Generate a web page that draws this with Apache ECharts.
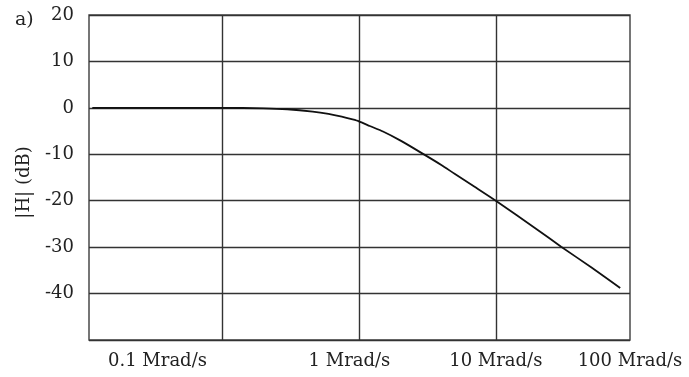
<!DOCTYPE html>
<html>
<head>
<meta charset="utf-8">
<script src="https://cdn.jsdelivr.net/npm/echarts@6/dist/echarts.min.js"></script>
<style>
  html, body { margin: 0; padding: 0; background: #fff; }
  #chart { width: 689px; height: 377px; }
</style>
</head>
<body>
<div id="chart"></div>
<script>
// Frequency (Mrad/s) and magnitude (dB)
const omega = [0.0113, 0.1, 0.2, 0.3, 0.46, 0.6, 0.75, 0.9, 1, 1.2, 1.5, 2, 2.9, 4, 5, 7, 10, 20, 30, 50, 81];
const magDb = [0, 0, -0.1, -0.3, -0.8, -1.3, -1.9, -2.5, -2.9, -3.9, -5.1, -7.0, -9.8, -12.3, -14.2, -17.0, -20, -26.2, -29.9, -34.4, -38.8];

// x axis span in decades (log10 of Mrad/s)
const xMinDec = -1.971;
const xMaxDec = 1.98;
// vertical grid lines at decades
const gridDecades = [-1, 0, 1];
// tick labels and where they sit (log10 position)
const xLabelPos = [-1.471, -0.069, 1, 1.98];
const xLabelText = ['0.1 Mrad/s', '1 Mrad/s', '10 Mrad/s', '100 Mrad/s'];

// y axis
const yMin = -50, yMax = 20, yStep = 10;

const seriesData = omega.map((w, i) => [Math.log10(w), magDb[i]]);

const FONT = 'DejaVu Serif';
const chart = echarts.init(document.getElementById('chart'), null, { renderer: 'canvas' });
chart.setOption({
  animation: false,
  backgroundColor: '#ffffff',
  grid: {
    left: 89, right: 59, top: 15, bottom: 37,
    show: true, borderColor: '#4a4a4a', borderWidth: 1.5, backgroundColor: 'transparent'
  },
  graphic: [{
    type: 'text', left: 15, top: 11,
    style: { text: 'a)', font: '19px "DejaVu Serif"', fill: '#222' }
  }],
  xAxis: {
    type: 'value',
    min: xMinDec, max: xMaxDec,
    axisLine: { show: false },
    axisTick: { show: false },
    splitLine: { show: false },
    axisLabel: {
      customValues: xLabelPos,
      margin: 12,
      fontFamily: FONT, fontSize: 18, color: '#222',
      formatter: function (v) {
        let best = 0, bd = Infinity;
        xLabelPos.forEach((p, i) => { const d = Math.abs(p - v); if (d < bd) { bd = d; best = i; } });
        return xLabelText[best];
      }
    }
  },
  yAxis: {
    type: 'value',
    min: yMin, max: yMax, interval: yStep,
    name: '|H| (dB)',
    nameLocation: 'middle',
    nameGap: 56,
    nameRotate: 90,
    nameTextStyle: { fontFamily: FONT, fontSize: 18, color: '#222', padding: [0, 0, 0, -10] },
    axisLine: { show: false },
    axisTick: { show: false },
    splitLine: { show: true, lineStyle: { color: '#333', width: 1.4 } },
    axisLabel: {
      margin: 15,
      fontFamily: FONT, fontSize: 18, color: '#222',
      formatter: function (v) { return v === yMin ? '' : String(v); }
    }
  },
  series: [{
    type: 'line',
    data: seriesData,
    smooth: 0.2,
    showSymbol: false,
    lineStyle: { color: '#111', width: 1.8 },
    markLine: {
      silent: true,
      symbol: 'none',
      label: { show: false },
      lineStyle: { color: '#333', width: 1.4, type: 'solid' },
      data: gridDecades.map(d => ({ xAxis: d }))
    },
    z: 5
  }]
});
</script>
</body>
</html>
